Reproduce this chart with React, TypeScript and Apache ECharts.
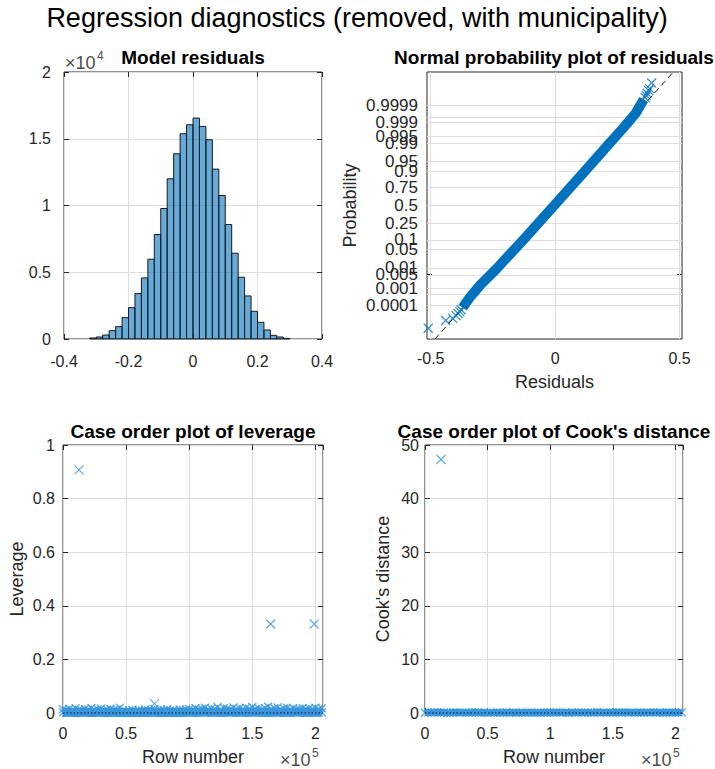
import React, { useEffect, useRef } from "react";
import * as echarts from "echarts";

const FONT = "'Liberation Sans', Arial, Helvetica, sans-serif";
const INK = "#262626";
const GRID_LINE = "#DEDEDE";
const DEEP_BLUE = "#0072BD";
const MARK_BLUE = "#3A96DC";
const X_MARK = "path://M0,0L10,10M10,0L0,10";

// ---- Model residuals histogram ----
const residualBinEdges = [
  -0.32, -0.3, -0.28, -0.26, -0.24, -0.22, -0.2, -0.18, -0.16, -0.14, -0.12,
  -0.1, -0.08, -0.06, -0.04, -0.02, 0, 0.02, 0.04, 0.06, 0.08, 0.1, 0.12, 0.14,
  0.16, 0.18, 0.2, 0.22, 0.24, 0.26, 0.28, 0.3,
];
const residualCounts = [
  75, 150, 300, 625, 925, 1600, 2350, 3400, 4575, 5975, 7825, 9775, 12000,
  13875, 15375, 16050, 16550, 15925, 14925, 12725, 10750, 8575, 6425, 4625,
  3225, 2075, 1250, 675, 275, 150, 50,
];

// ---- Normal probability plot ----
const probabilityTicks = [
  0.0001, 0.0005, 0.001, 0.005, 0.01, 0.05, 0.1, 0.25, 0.5, 0.75, 0.9, 0.95,
  0.99, 0.995, 0.999, 0.9995, 0.9999,
];
const probabilityTickLabels = [
  "0.0001", "0.0005", "0.001", "0.005", "0.01", "0.05", "0.1", "0.25", "0.5",
  "0.75", "0.9", "0.95", "0.99", "0.995", "0.999", "0.9995", "0.9999",
];
const residualTicks = [-0.5, 0, 0.5];
// [residual, normal quantile] along the dense body of the sorted residuals
const residualBody = [
  [-0.372, -3.8], [-0.345, -3.45], [-0.3, -2.95], [-0.235, -2.35],
  [-0.125, -1.25], [-0.004, 0], [0.117, 1.25], [0.222, 2.35], [0.28, 2.95],
  [0.325, 3.45], [0.356, 3.95],
];
// isolated residuals in both tails
const residualTails = [
  [-0.51, -4.57], [-0.44, -4.28], [-0.412, -4.2], [-0.398, -4.1],
  [-0.39, -4.02], [-0.383, -3.95], [-0.378, -3.88],
  [0.362, 4.02], [0.366, 4.1], [0.37, 4.18], [0.376, 4.28], [0.38, 4.35],
  [0.388, 4.56],
];
// quartile reference line, extended to the plot limits
const referenceLine = [
  [-0.483, -4.97],
  [0.475, 4.97],
];

// ---- Case order plots (rows sampled every 2 500 cases) ----
const caseRowStep = 2500;
const leverageLow = [
  0.003, 0.002, 0.004, 0.002, 0.003, 0.001, 0.004, 0.003, 0.002, 0.003,
  0.002, 0.004, 0.003, 0.002, 0.001, 0.003, 0.004, 0.002, 0.003, 0.002,
  0.001, 0.002, 0.003, 0.002, 0.001, 0.003, 0.002, 0.002, 0.004, 0.003,
  0.002, 0.001, 0.003, 0.002, 0.003, 0.002, 0.001, 0.003, 0.002, 0.003,
  0.004, 0.003, 0.002, 0.004, 0.003, 0.005, 0.002, 0.003, 0.004, 0.003,
  0.002, 0.004, 0.003, 0.005, 0.002, 0.003, 0.004, 0.003, 0.002, 0.004,
  0.003, 0.005, 0.002, 0.004, 0.003, 0.002, 0.004, 0.003, 0.005, 0.002,
  0.003, 0.004, 0.002, 0.003, 0.005, 0.003, 0.002, 0.004, 0.003, 0.002,
  0.004, 0.003, 0.002,
];
const leverageHigh = [
  0.014, 0.009, 0.016, 0.011, 0.018, 0.012, 0.008, 0.015, 0.013, 0.019,
  0.01, 0.014, 0.017, 0.009, 0.012, 0.016, 0.011, 0.013, 0.02, 0.01,
  0.006, 0.009, 0.012, 0.007, 0.01, 0.008, 0.013, 0.009, 0.011, 0.015,
  0.008, 0.012, 0.01, 0.014, 0.009, 0.011, 0.007, 0.013, 0.01, 0.012,
  0.015, 0.011, 0.018, 0.013, 0.016, 0.02, 0.012, 0.017, 0.014, 0.022,
  0.013, 0.019, 0.016, 0.012, 0.021, 0.015, 0.018, 0.013, 0.02, 0.016,
  0.022, 0.014, 0.017, 0.012, 0.019, 0.024, 0.015, 0.018, 0.021, 0.013,
  0.017, 0.02, 0.014, 0.018, 0.012, 0.016, 0.019, 0.013, 0.017, 0.015,
  0.02, 0.014, 0.018,
];
const leverageOutliers = [
  [12700, 0.907],
  [72500, 0.035],
  [164600, 0.332],
  [199000, 0.332],
];
const leverageReference = 0.0004;
const cooksBand = [
  0.05, 0.12, 0.03, 0.08, 0.15, 0.04, 0.1, 0.06, 0.02, 0.09,
  0.13, 0.05, 0.07, 0.11, 0.03, 0.06, 0.14, 0.08, 0.04, 0.1,
  0.02, 0.07, 0.05, 0.09, 0.03, 0.06, 0.12, 0.04, 0.08, 0.05,
  0.03, 0.1, 0.06, 0.04, 0.09, 0.05, 0.07, 0.03, 0.11, 0.06,
  0.08, 0.04, 0.13, 0.07, 0.05, 0.1, 0.06, 0.09, 0.04, 0.12,
  0.07, 0.05, 0.11, 0.08, 0.06, 0.14, 0.05, 0.09, 0.07, 0.1,
  0.06, 0.12, 0.08, 0.05, 0.16, 0.07, 0.09, 0.06, 0.11, 0.08,
  0.05, 0.1, 0.07, 0.13, 0.06, 0.09, 0.05, 0.08, 0.11, 0.06,
  0.09, 0.07, 0.1,
];
const cooksOutliers = [[12800, 47.3]];
const cooksReference = 0.002;

// Acklam's rational approximation of the inverse normal CDF (probability-paper scale)
function normInv(p: number): number {
  const a = [-39.69683028665376, 220.9460984245205, -275.9285104469687, 138.357751867269, -30.66479806614716, 2.506628277459239];
  const b = [-54.47609879822406, 161.5858368580409, -155.6989798598866, 66.80131188771972, -13.28068155288572];
  const c = [-0.007784894002430293, -0.3223964580411365, -2.400758277161838, -2.549732539343734, 4.374664141464968, 2.938163982698783];
  const d = [0.007784695709041462, 0.3224671290700398, 2.445134137142996, 3.754408661907416];
  const pl = 0.02425;
  if (p < pl) {
    const q = Math.sqrt(-2 * Math.log(p));
    return (((((c[0] * q + c[1]) * q + c[2]) * q + c[3]) * q + c[4]) * q + c[5]) /
      ((((d[0] * q + d[1]) * q + d[2]) * q + d[3]) * q + 1);
  }
  if (p > 1 - pl) {
    const q = Math.sqrt(-2 * Math.log(1 - p));
    return -(((((c[0] * q + c[1]) * q + c[2]) * q + c[3]) * q + c[4]) * q + c[5]) /
      ((((d[0] * q + d[1]) * q + d[2]) * q + d[3]) * q + 1);
  }
  const q = p - 0.5;
  const r = q * q;
  return ((((((a[0] * r + a[1]) * r + a[2]) * r + a[3]) * r + a[4]) * r + a[5]) * q) /
    (((((b[0] * r + b[1]) * r + b[2]) * r + b[3]) * r + b[4]) * r + 1);
}

const probabilityQuantiles = probabilityTicks.map(normInv);
const probabilityLabel = (z: number) => {
  let best = 0;
  probabilityQuantiles.forEach((q, i) => {
    if (Math.abs(q - z) < Math.abs(probabilityQuantiles[best] - z)) best = i;
  });
  return probabilityTickLabels[best];
};
const trim = (v: number) => String(parseFloat(v.toFixed(4)));

const tickText = { color: INK, fontFamily: FONT, fontSize: 16 };
const nameText = { color: INK, fontFamily: FONT, fontSize: 18 };

type AxisSpec = {
  min: number;
  max: number;
  interval?: number;
  customValues?: number[];
  formatter?: (v: number) => string;
  margin: number;
  fontSize?: number;
  showMax?: boolean;
  name?: string;
  nameGap?: number;
  grid?: boolean;
};

function axisPair(kind: "x" | "y", gridIndex: number, s: AxisSpec) {
  const tick = {
    show: true,
    inside: true,
    length: 5,
    lineStyle: { color: INK, width: 1 },
    ...(s.customValues ? { customValues: s.customValues } : {}),
  };
  const base = {
    type: "value",
    gridIndex,
    min: s.min,
    max: s.max,
    ...(s.interval ? { interval: s.interval } : {}),
    axisLine: { show: false, onZero: false },
    axisTick: tick,
  };
  const main = {
    ...base,
    position: kind === "x" ? "bottom" : "left",
    axisLabel: {
      ...tickText,
      fontSize: s.fontSize || tickText.fontSize,
      margin: s.margin,
      showMinLabel: true,
      showMaxLabel: s.showMax !== false,
      hideOverlap: false,
      formatter: s.formatter || trim,
      ...(s.customValues ? { customValues: s.customValues } : {}),
    },
    splitLine: { show: s.grid !== false, lineStyle: { color: GRID_LINE, width: 1 } },
    name: s.name,
    nameLocation: "middle",
    nameGap: s.nameGap,
    nameTextStyle: nameText,
  };
  const mirror = {
    ...base,
    position: kind === "x" ? "top" : "right",
    axisLabel: { show: false },
    splitLine: { show: false },
  };
  return [main, mirror];
}

const xMark = (color: string, size = 8, width = 1) => ({
  type: "scatter",
  symbol: X_MARK,
  symbolSize: size,
  itemStyle: { color, borderColor: color, borderWidth: width },
  silent: true,
});

const bandLine = (color: string, width: number) => ({
  type: "line",
  symbol: "none",
  lineStyle: { color, width },
  silent: true,
});

function buildOption() {
  const grids = [
    { left: 64, top: 72, width: 258, height: 267 },
    { left: 427, top: 72, width: 255, height: 267 },
    { left: 63, top: 445, width: 260, height: 268 },
    { left: 425, top: 445, width: 258, height: 268 },
  ].map((g) => ({ ...g, show: true, borderColor: INK, borderWidth: 1, backgroundColor: "#fff" }));

  const xAxis = [
    ...axisPair("x", 0, { min: -0.4, max: 0.4, interval: 0.2, margin: 14 }),
    ...axisPair("x", 1, {
      min: -0.515, max: 0.51, customValues: residualTicks, margin: 11,
      name: "Residuals", nameGap: 34, grid: false,
    }),
    ...axisPair("x", 2, {
      min: 0, max: 206000, interval: 50000, margin: 12, showMax: false,
      formatter: (v) => trim(v / 1e5), name: "Row number", nameGap: 35,
    }),
    ...axisPair("x", 3, {
      min: 0, max: 206000, interval: 50000, margin: 12, showMax: false,
      formatter: (v) => trim(v / 1e5), name: "Row number", nameGap: 35,
    }),
  ];
  const yAxis = [
    ...axisPair("y", 0, {
      min: 0, max: 20000, interval: 5000, margin: 13, formatter: (v) => trim(v / 1e4),
    }),
    ...axisPair("y", 1, {
      min: -4.97, max: 4.97, customValues: probabilityQuantiles, margin: 9, fontSize: 17,
      formatter: probabilityLabel, name: "Probability", nameGap: 68, grid: false,
    }),
    ...axisPair("y", 2, {
      min: 0, max: 1, interval: 0.2, margin: 8, name: "Leverage", nameGap: 37,
    }),
    ...axisPair("y", 3, {
      min: 0, max: 50, interval: 10, margin: 6, name: "Cook's distance", nameGap: 33,
    }),
  ];

  const rows = (vals: number[]) => vals.map((v, i) => [i * caseRowStep, v]);

  const series: any[] = [
    {
      type: "custom",
      name: "Model residuals",
      xAxisIndex: 0,
      yAxisIndex: 0,
      data: residualCounts.map((c, i) => [residualBinEdges[i], residualBinEdges[i + 1], c]),
      encode: { x: [0, 1], y: 2 },
      renderItem: (_p: any, api: any) => {
        const a = api.coord([api.value(0), api.value(2)]);
        const b = api.coord([api.value(1), 0]);
        return {
          type: "rect",
          shape: { x: a[0], y: a[1], width: b[0] - a[0], height: b[1] - a[1] },
          style: { fill: "rgba(0,114,189,0.6)", stroke: "#1A1A1A", lineWidth: 1 },
        };
      },
      silent: true,
    },
    {
      type: "line",
      name: "probability grid",
      xAxisIndex: 2,
      yAxisIndex: 2,
      data: referenceLine,
      symbol: "none",
      lineStyle: { opacity: 0 },
      silent: true,
      z: 1,
      markLine: {
        silent: true,
        z: 1,
        symbol: "none",
        label: { show: false },
        lineStyle: { color: GRID_LINE, width: 1, type: "solid" },
        data: [
          ...probabilityQuantiles.map((q) => ({ yAxis: q })),
          ...residualTicks.map((r) => ({ xAxis: r })),
        ],
      },
    },
    {
      type: "line",
      name: "reference",
      xAxisIndex: 2,
      yAxisIndex: 2,
      data: referenceLine,
      symbol: "none",
      lineStyle: { color: "#1E1E1E", width: 1, type: [6, 4] },
      silent: true,
      z: 2,
    },
    {
      ...bandLine(DEEP_BLUE, 10),
      name: "residuals",
      xAxisIndex: 2,
      yAxisIndex: 2,
      data: residualBody,
      z: 3,
    },
    { ...xMark(DEEP_BLUE, 9, 1.2), name: "residual tails", xAxisIndex: 2, yAxisIndex: 2, data: residualTails, z: 4 },

    { ...bandLine(MARK_BLUE, 9), name: "leverage body", xAxisIndex: 4, yAxisIndex: 4, data: rows(leverageLow), z: 2 },
    {
      ...xMark(MARK_BLUE, 8, 1.4),
      name: "leverage",
      xAxisIndex: 4,
      yAxisIndex: 4,
      data: rows(leverageLow),
      z: 3,
      markLine: {
        silent: true,
        symbol: "none",
        label: { show: false },
        lineStyle: { color: "#173A63", width: 1.5, type: [1.5, 2] },
        data: [{ yAxis: leverageReference }],
      },
    },
    { ...xMark(MARK_BLUE, 8, 1.4), name: "leverage upper", xAxisIndex: 4, yAxisIndex: 4, data: rows(leverageHigh), z: 3 },
    { ...xMark(MARK_BLUE, 9, 1.2), name: "leverage outliers", xAxisIndex: 4, yAxisIndex: 4, data: leverageOutliers, z: 4 },

    { ...bandLine(MARK_BLUE, 7), name: "Cook's body", xAxisIndex: 6, yAxisIndex: 6, data: rows(cooksBand), z: 2 },
    {
      ...xMark(MARK_BLUE, 8, 1.4),
      name: "Cook's distance",
      xAxisIndex: 6,
      yAxisIndex: 6,
      data: rows(cooksBand),
      z: 3,
      markLine: {
        silent: true,
        symbol: "none",
        label: { show: false },
        lineStyle: { color: "#173A63", width: 1.5, type: [1.5, 2] },
        data: [{ yAxis: cooksReference }],
      },
    },
    { ...xMark(MARK_BLUE, 9, 1.2), name: "Cook's outliers", xAxisIndex: 6, yAxisIndex: 6, data: cooksOutliers, z: 4 },
  ];

  const sub = { fontFamily: FONT, fontSize: 19, fontWeight: "bold", color: "#000" };
  const title = [
    {
      text: "Regression diagnostics (removed, with municipality)",
      left: 357, top: 4, textAlign: "center", padding: 0,
      textStyle: { fontFamily: FONT, fontSize: 27, fontWeight: "normal", color: "#000" },
    },
    { text: "Model residuals", left: 193, top: 48, textAlign: "center", padding: 0, textStyle: sub },
    { text: "Normal probability plot of residuals", left: 554, top: 48, textAlign: "center", padding: 0, textStyle: sub },
    { text: "Case order plot of leverage", left: 193, top: 422, textAlign: "center", padding: 0, textStyle: sub },
    { text: "Case order plot of Cook's distance", left: 554, top: 422, textAlign: "center", padding: 0, textStyle: sub },
  ];

  const exponent = (x: number, y: number, power: string) => [
    { type: "text", x, y, style: { text: "×10", font: `18px ${FONT}`, fill: "#4D4D4D", textVerticalAlign: "middle" } },
    { type: "text", x: x + 32, y: y - 7, style: { text: power, font: `12px ${FONT}`, fill: "#4D4D4D", textVerticalAlign: "middle" } },
  ];

  return {
    animation: false,
    backgroundColor: "#fff",
    title,
    grid: grids,
    xAxis,
    yAxis,
    series,
    graphic: [...exponent(65, 63, "4"), ...exponent(280, 760, "5"), ...exponent(641, 760, "5")],
  };
}

export default function App() {
  const ref = useRef<HTMLDivElement>(null);
  useEffect(() => {
    const chart = echarts.init(ref.current as HTMLDivElement, undefined, { renderer: "svg" });
    chart.setOption(buildOption() as any);
    return () => chart.dispose();
  }, []);
  return (
    <div
      ref={ref}
      style={{ position: "absolute", left: 0, top: 0, width: 715, height: 769, background: "#fff" }}
    />
  );
}
